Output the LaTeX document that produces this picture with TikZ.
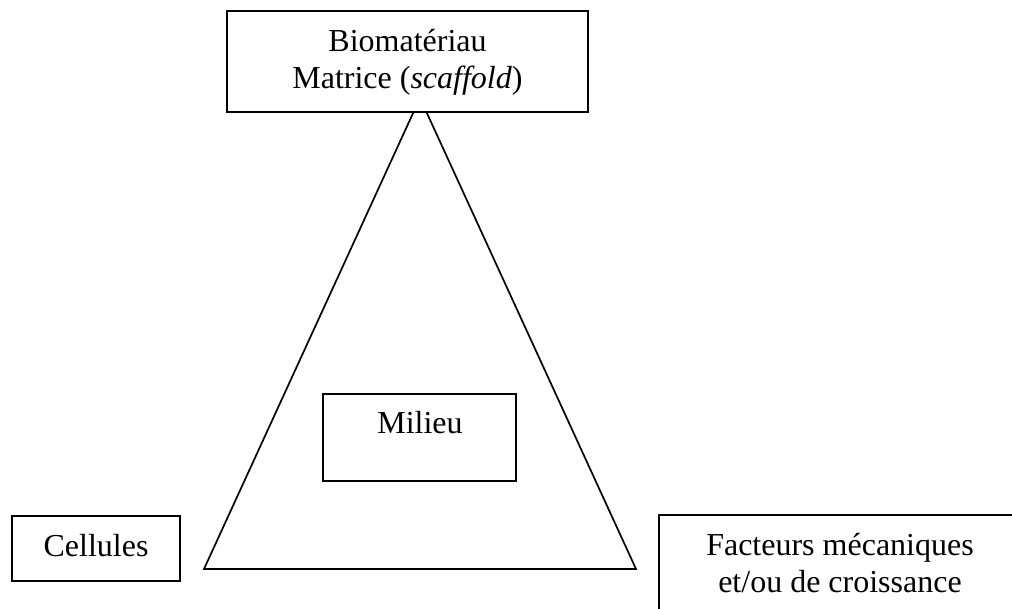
\documentclass[tikz,border=0pt]{standalone}
\usepackage{fontspec}
\setmainfont{Liberation Serif}
\begin{document}
\begin{tikzpicture}[x=1pt,y=-1pt,
  box/.style={draw, line width=2pt, fill=white, inner sep=0pt},
  txt/.style={font=\fontsize{32}{37}\selectfont, align=center, inner sep=0pt, anchor=base},
  tri/.style={draw, line width=1.7pt}]
\useasboundingbox (0,0) rectangle (1012,608);
\clip (0,0) rectangle (1012,608);
% triangle
\coordinate (apex) at (420,98);
\coordinate (bl) at (204,569);
\coordinate (br) at (636,569);
\draw[tri] (apex) -- (bl) -- (br) -- cycle;
% boxes
\node[box, minimum width=361pt, minimum height=101pt] (bio) at (407.5,61.5) {};
\node[txt] (biot) at (407.5,88) {Biomatériau\\Matrice (\textit{scaffold})};
\node[box, minimum width=193pt, minimum height=87pt] (mil) at (419.5,437.5) {};
\node[txt] (milt) at (420,433) {Milieu};
\node[box, minimum width=168pt, minimum height=65pt] (cel) at (96,548.5) {};
\node[txt] (celt) at (96,556) {Cellules};
\node[box, minimum width=362pt, minimum height=130pt] (fac) at (840,580) {};
\node[txt] (fact) at (840,592) {Facteurs mécaniques\\et/ou de croissance};
\end{tikzpicture}
\end{document}
